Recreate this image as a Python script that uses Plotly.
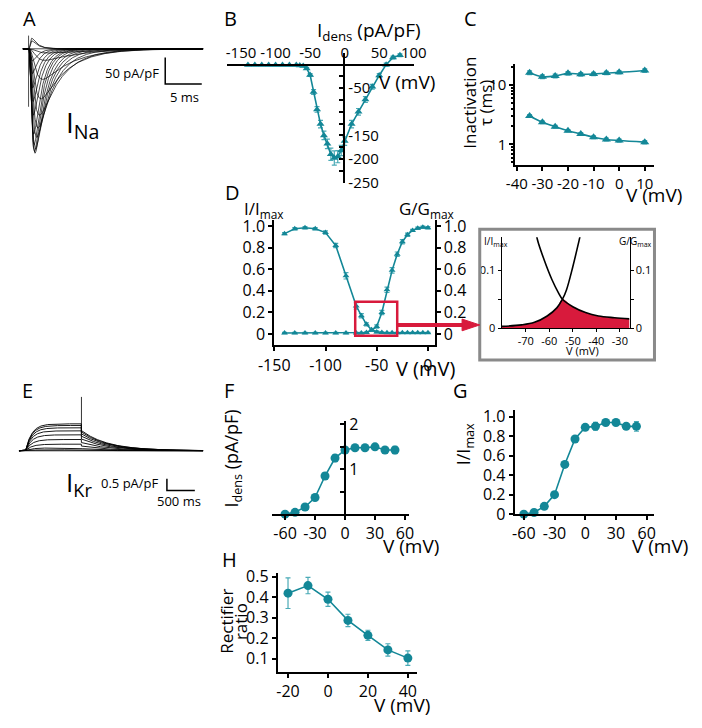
import numpy as np
import plotly.graph_objects as go

W, H = 702, 728
FONT = "Open Sans"
TEAL = "#138797"
TEAL_ERR = "#4aaab6"
RED = "#d81a3c"

# ---------------- data ----------------
# B: Na current density vs voltage
b_v = [-140, -130, -120, -110, -100, -90, -80, -70, -65, -60, -55, -50, -45, -40, -35,
       -30, -25, -20, -15, -10, -5, 0, 10, 20, 30, 40, 50, 60, 70, 80]
b_i = [-1, -1, -1, -1, -1, -1, -1, -1, -2, -3, -8, -22, -58, -95, -126,
       -150, -168, -190, -198, -195, -182, -162, -126, -100, -74, -47, -23, 0, 15, 20]
b_err = [1, 1, 1, 1, 1, 1, 1, 1, 1, 1, 2, 3, 5, 6, 8,
         9, 10, 13, 15, 13, 11, 9, 8, 7, 6, 5, 4, 3, 3, 3]

# C: inactivation time constants
c_v = [-35, -30, -25, -20, -15, -10, -5, 0, 10]
c_slow = [16.0, 13.7, 14.1, 15.6, 15.0, 15.2, 15.8, 16.2, 17.4]
c_slow_err = [1.2, 1.0, 1.0, 1.0, 1.0, 1.0, 1.0, 1.0, 1.2]
c_fast = [3.0, 2.35, 1.98, 1.70, 1.50, 1.32, 1.21, 1.16, 1.09]
c_fast_err = [0.15, 0.12, 0.1, 0.08, 0.08, 0.07, 0.07, 0.07, 0.07]

# D: steady-state inactivation (I/Imax) and activation (G/Gmax)
d_v = [-140, -130, -120, -110, -100, -90, -80, -70, -65, -60, -55,
       -50, -45, -40, -35, -30, -25, -20, -15, -10, -5, 0]
d_inact = [0.93, 0.975, 0.985, 0.975, 0.94, 0.82, 0.54, 0.26, 0.17, 0.09, 0.04,
           0.02, 0.015, 0.012, 0.012, 0.012, 0.012, 0.012, 0.012, 0.012, 0.012, 0.012]
d_inact_err = [0.01, 0.01, 0.01, 0.01, 0.015, 0.02, 0.03, 0.03, 0.02, 0.015, 0.01,
               0.01, 0.005, 0.005, 0.005, 0.005, 0.005, 0.005, 0.005, 0.005, 0.005, 0.005]
d_act = [0.01, 0.01, 0.01, 0.01, 0.01, 0.01, 0.01, 0.01, 0.01, 0.015, 0.035,
         0.07, 0.2, 0.41, 0.59, 0.74, 0.855, 0.92, 0.96, 0.98, 0.99, 0.985]
d_act_err = [0.005, 0.005, 0.005, 0.005, 0.005, 0.005, 0.005, 0.005, 0.005, 0.005, 0.01,
             0.015, 0.02, 0.025, 0.025, 0.02, 0.02, 0.015, 0.01, 0.01, 0.01, 0.01]

# D inset: window current (curves)
in_act_v = [-80.3, -71.8, -66.3, -60.9, -56.8, -54.4, -52.7, -50.0, -47.3, -46.0]
in_act = [0.003, 0.0056, 0.010, 0.021, 0.035, 0.05, 0.066, 0.106, 0.152, 0.175]
in_inact_v = [-66.0, -65.0, -62.2, -58.9, -56.1, -54.4, -50.0, -44.6, -39.1, -32.3, -25.9]
in_inact = [0.175, 0.152, 0.118, 0.084, 0.061, 0.05, 0.037, 0.027, 0.021, 0.018, 0.016]

# F: I_Kr density vs voltage
f_v = [-60, -50, -40, -30, -20, -10, 0, 10, 20, 30, 40, 50]
f_i = [0.0, 0.04, 0.16, 0.37, 0.85, 1.25, 1.43, 1.48, 1.48, 1.50, 1.43, 1.43]
f_err = [0.02, 0.02, 0.03, 0.04, 0.07, 0.08, 0.06, 0.04, 0.04, 0.05, 0.05, 0.08]

# G: normalised I_Kr
g_v = [-60, -50, -40, -30, -20, -10, 0, 10, 20, 30, 40, 50]
g_r = [0.0, 0.017, 0.08, 0.2, 0.51, 0.77, 0.89, 0.9, 0.94, 0.94, 0.9, 0.9]
g_err = [0.01, 0.01, 0.015, 0.02, 0.03, 0.025, 0.02, 0.04, 0.02, 0.02, 0.03, 0.05]

# H: rectifier ratio
h_v = [-20, -10, 0, 10, 20, 30, 40]
h_r = [0.42, 0.457, 0.39, 0.287, 0.214, 0.143, 0.103]
h_err = [0.075, 0.04, 0.035, 0.03, 0.025, 0.03, 0.035]

# A: raw I_Na traces, kinetics per step voltage (amplitudes from panel B)
a_t = np.linspace(0, 24.7, 800)
a_t0 = 0.85
a_tm_v = [-55, -40, -20, 0, 40, 80]
a_tm = [0.8, 0.55, 0.32, 0.24, 0.17, 0.14]
a_th_v = [-55, -45] + c_v + [40, 80]
a_th = [5.5, 4.0] + c_fast + [0.9, 0.8]
a_artifact = [25, -110]

# E: raw I_Kr traces
e_t = np.linspace(0, 3300, 1200)
e_on, e_off = 120, 1120
e_step = [0.0, 0.04, 0.12, 0.28, 0.48, 0.68, 0.85, 0.98, 1.08, 1.15]
e_tail = [0.0, 0.03, 0.09, 0.2, 0.35, 0.5, 0.62, 0.72, 0.8, 0.86]
e_spike = [0.9, 2.3]


def hx(a, b):
    return [a / W, b / W]


def vy(top, bottom):
    return [1 - bottom / H, 1 - top / H]


def na_trace(v, amp):
    tm = np.interp(v, a_tm_v, a_tm)
    th = np.interp(v, a_th_v, a_th)
    s = np.clip(a_t - a_t0, 0, None)
    g = (1 - np.exp(-s / tm)) ** 3 * np.exp(-s / th)
    return amp * g / g.max()


def kr_trace(step, tail):
    y = np.zeros_like(e_t)
    on = (e_t >= e_on) & (e_t < e_off)
    y[on] = step * (1 - np.exp(-(e_t[on] - e_on) / 110))
    off = e_t >= e_off
    y[off] = tail * np.exp(-(e_t[off] - e_off) / 480)
    return y


fig = go.Figure()


def line(x, y, ax, color="black", width=0.7, shape="linear"):
    fig.add_trace(go.Scatter(x=x, y=y, mode="lines", line=dict(color=color, width=width, shape=shape),
                             xaxis=ax[0], yaxis=ax[1], hoverinfo="skip"))


def data(x, y, err, ax, symbol, size, shape="linear"):
    fig.add_trace(go.Scatter(
        x=x, y=y, mode="lines+markers", xaxis=ax[0], yaxis=ax[1],
        line=dict(color=TEAL, width=1.6, shape=shape),
        marker=dict(symbol=symbol, size=size, color=TEAL),
        error_y=dict(type="data", array=err, color=TEAL_ERR, thickness=1.2, width=2.5),
        cliponaxis=False, hoverinfo="skip"))


# A traces
for v, amp in zip(b_v, b_i):
    if v >= -55:
        line(a_t, na_trace(v, amp), ("x", "y"))
line([a_t0 - 0.05] * 2, a_artifact, ("x", "y"))
line([19.5, 19.5, 24.5], [-16.7, -66.7, -66.7], ("x", "y"), width=1.5)

# B
data(b_v, b_i, b_err, ("x2", "y2"), "triangle-up", 7)

# C
data(c_v, c_slow, c_slow_err, ("x3", "y3"), "triangle-up", 8, "spline")
data(c_v, c_fast, c_fast_err, ("x3", "y3"), "triangle-up", 8, "spline")

# D (inactivation on left axis, activation on right axis)
data(d_v, d_inact, d_inact_err, ("x4", "y4"), "triangle-up", 6)
data(d_v, d_act, d_act_err, ("x4", "y5"), "triangle-up", 6)

# inset: red window area = lower envelope of the two curves
k_a = in_act_v.index(-54.4)
k_i = in_inact_v.index(-54.4)
fig.add_trace(go.Scatter(x=in_act_v[:k_a + 1] + in_inact_v[k_i + 1:],
                         y=in_act[:k_a + 1] + in_inact[k_i + 1:],
                         mode="lines", fill="tozeroy", fillcolor=RED,
                         line=dict(width=0, shape="spline", color=RED),
                         xaxis="x6", yaxis="y6", hoverinfo="skip"))
line(in_act_v, in_act, ("x6", "y7"), width=1.6, shape="spline")
line(in_inact_v, in_inact, ("x6", "y6"), width=1.6, shape="spline")

# E traces
for s, tl in zip(e_step, e_tail):
    line(e_t, kr_trace(s, tl), ("x8", "y8"), width=0.9)
line([e_off, e_off], e_spike, ("x8", "y8"), width=0.8)
line([2650, 2650, 3150], [-1.2, -1.7, -1.7], ("x8", "y8"), width=1.5)

# F, G, H
data(f_v, f_i, f_err, ("x9", "y9"), "circle", 9)
data(g_v, g_r, g_err, ("x10", "y10"), "circle", 9)
data(h_v, h_r, h_err, ("x11", "y11"), "circle", 9)

# ---------------- axes ----------------
tf = dict(family=FONT, size=16, color="black")
base = dict(showline=True, linecolor="black", linewidth=2, showgrid=False, zeroline=False,
            ticks="outside", ticklen=4, tickwidth=1.5, tickcolor="black", tickfont=tf,
            tickangle=0, fixedrange=True)
small = dict(linewidth=1, ticklen=3, tickwidth=1, tickfont=dict(tf, size=11))
hidden = dict(visible=False, fixedrange=True)


def neg(vals):
    return [("-" + str(abs(v))) if v < 0 else str(v) for v in vals]


frac = ["0", "0.2", "0.4", "0.6", "0.8", "1.0"]
fvals = [0, 0.2, 0.4, 0.6, 0.8, 1.0]

lay = dict(
    xaxis=dict(hidden, domain=hx(7, 195), range=[0, 24.7]),
    yaxis=dict(hidden, domain=vy(25, 165), range=[-226, 33]),
    xaxis2=dict(base, domain=hx(220, 415), range=[-170, 101], anchor="free",
                position=1 - 59 / H, side="top", ticks="", tickfont=dict(tf, size=15),
                tickvals=[-150, -100, -50, 0, 50, 100], ticktext=neg([-150, -100, -50, 0, 50, 100])),
    yaxis2=dict(base, domain=vy(47, 180), range=[-250, 25], anchor="free",
                position=342 / W, side="right", ticks="inside", tickfont=dict(tf, size=15),
                tickvals=[-50, -150, -200, -250], ticktext=neg([-50, -150, -200, -250]),
                minor=dict(tickvals=[-25, -75, -100, -125, -175, -225], ticks="inside",
                           ticklen=4, tickcolor="black")),
    xaxis3=dict(base, domain=hx(520, 665), range=[-40.6, 13.8], anchor="y3",
                tickfont=dict(tf, size=15),
                tickvals=[-40, -30, -20, -10, 0, 10], ticktext=neg([-40, -30, -20, -10, 0, 10])),
    yaxis3=dict(base, domain=vy(58, 162), type="log", range=[-0.346, 1.357], anchor="x3",
                tickfont=dict(tf, size=15),
                tickvals=[1, 10], ticktext=["1", "10"],
                minor=dict(tickvals=[0.5, 0.6, 0.7, 0.8, 0.9, 2, 3, 4, 5, 6, 7, 8, 9, 20],
                           ticks="outside", ticklen=2, tickcolor="black")),
    xaxis4=dict(base, domain=hx(269, 436), range=[-150, 6.5], anchor="y4",
                tickvals=[-150, -100, -50, 0], ticktext=neg([-150, -100, -50, 0])),
    yaxis4=dict(base, domain=vy(218, 347), range=[-0.105, 1.06], anchor="x4",
                tickvals=fvals, ticktext=frac),
    yaxis5=dict(base, domain=vy(218, 347), range=[-0.105, 1.06], anchor="x4",
                overlaying="y4", side="right", tickvals=fvals, ticktext=frac),
    xaxis6=dict(base, **small, domain=hx(505.7, 639), range=[-80.3, -25.9], anchor="y6",
                tickvals=[-70, -60, -50, -40, -30], ticktext=neg([-70, -60, -50, -40, -30])),
    yaxis6=dict(base, **small, domain=vy(236, 329.3), range=[0, 0.157], anchor="x6",
                tickvals=[0, 0.1], ticktext=["0", "0.1"],
                minor=dict(tickvals=[0.05], ticks="outside", ticklen=3, tickcolor="black")),
    yaxis7=dict(base, **small, domain=vy(236, 329.3), range=[0, 0.157], anchor="x6",
                overlaying="y6", side="right",
                tickvals=[0, 0.1], ticktext=["0", "0.1"],
                minor=dict(tickvals=[0.05], ticks="outside", ticklen=3, tickcolor="black")),
    xaxis8=dict(hidden, domain=hx(3, 195), range=[0, 3300]),
    yaxis8=dict(hidden, domain=vy(395, 515), range=[-2.5, 2.5]),
    xaxis9=dict(base, domain=hx(266.7, 409.3), range=[-73, 64], anchor="y9",
                tickvals=[-60, -30, 0, 30, 60], ticktext=neg([-60, -30, 0, 30, 60])),
    yaxis9=dict(base, domain=vy(424, 520), range=[0, 2.087], anchor="free",
                position=342.7 / W, side="right", ticks="inside",
                tickvals=[1, 2], ticktext=["1", "2"],
                minor=dict(tickvals=[0.5, 1.5], ticks="inside", ticklen=4, tickcolor="black")),
    xaxis10=dict(base, domain=hx(519.3, 665), range=[-69, 67.6], anchor="y10",
                 tickvals=[-60, -30, 0, 30, 60], ticktext=neg([-60, -30, 0, 30, 60])),
    yaxis10=dict(base, domain=vy(413, 520), range=[0, 1.07], anchor="x10",
                 tickvals=fvals, ticktext=frac),
    xaxis11=dict(base, domain=hx(272.7, 417.3), range=[-25.1, 44.4], anchor="y11",
                 tickvals=[-20, 0, 20, 40], ticktext=neg([-20, 0, 20, 40])),
    yaxis11=dict(base, domain=vy(580, 681.7), range=[0.036, 0.52], anchor="x11",
                 tickvals=[0.1, 0.2, 0.3, 0.4, 0.5],
                 ticktext=["0.1", "0.2", "0.3", "0.4", "0.5"]),
)

anns = []


def ann(text, x, y, size=18, xanchor="center", angle=0):
    anns.append(dict(text=text, x=x / W, y=1 - y / H, xref="paper", yref="paper",
                     showarrow=False, xanchor=xanchor, yanchor="middle", textangle=angle,
                     font=dict(family=FONT, size=size, color="black")))


for letter, x, y in [("A", 14, 12), ("B", 223, 12), ("C", 473, 12), ("D", 225, 190),
                     ("E", 12, 393), ("F", 222, 393), ("G", 463, 393), ("H", 222, 567)]:
    ann(letter, x, y, size=20)

ann("I<sub>Na</sub>", 50, 120, size=28, xanchor="left")
ann("50 pA/pF", 151, 68, size=13, xanchor="right")
ann("5 ms", 176, 92, size=13)
ann("I<sub>Kr</sub>", 50, 488, size=26, xanchor="left")
ann("0.5 pA/pF", 151, 488, size=13, xanchor="right")
ann("500 ms", 170, 507, size=13)

ann("I<sub>dens</sub> (pA/pF)", 368, 25, size=19)
ann("V (mV)", 407, 77, size=19)
ann("Inactivation", 472, 98, size=17, angle=-90)
ann("\u03c4 (ms)", 489, 98, size=17, angle=-90)
ann("V (mV)", 665, 193, size=19)
ann("I/I<sub>max</sub>", 258, 208, size=17)
ann("G/G<sub>max</sub>", 428, 208, size=17)
ann("V (mV)", 426, 371, size=20)
ann("I/I<sub>max</sub>", 500, 240, size=10)
ann("G/G<sub>max</sub>", 645, 240, size=10)
ann("V (mV)", 590, 352, size=11)
ann("I<sub>dens</sub> (pA/pF)", 226, 463, size=18, angle=-90)
ann("V (mV)", 411, 553, size=19)
ann("I/I<sub>max</sub>", 468, 448, size=18, angle=-90)
ann("V (mV)", 671, 553, size=19)
ann("Rectifier", 219, 630, size=17, angle=-90)
ann("ratio", 234, 630, size=17, angle=-90)
ann("V (mV)", 402, 716, size=19)

# arrow from the red box to the inset
ax0, ax1, ay = 397 / W, 466 / W, 1 - 326 / H
tip = 483 / W
hh = 6 / H
shapes = [
    dict(type="rect", xref="x4", yref="y4", x0=-71, x1=-30, y0=-0.015, y1=0.30,
         line=dict(color=RED, width=2.5)),
    dict(type="rect", xref="paper", yref="paper", x0=483 / W, x1=665 / W,
         y0=1 - 362 / H, y1=1 - 228 / H, line=dict(color="#8a8a8a", width=3)),
    dict(type="line", xref="paper", yref="paper", x0=ax0, x1=ax1, y0=ay, y1=ay,
         line=dict(color=RED, width=4)),
    dict(type="path", xref="paper", yref="paper", fillcolor=RED, line=dict(color=RED, width=1),
         path=f"M {ax1 - 0.002} {ay - hh} L {tip} {ay} L {ax1 - 0.002} {ay + hh} Z"),
]

fig.update_layout(width=W, height=H, margin=dict(l=0, r=0, t=0, b=0),
                  paper_bgcolor="white", plot_bgcolor="rgba(0,0,0,0)",
                  showlegend=False, font=dict(family=FONT, color="black"),
                  annotations=anns, shapes=shapes, **lay)

fig.write_html("out.html", config={"displayModeBar": False},
               post_script="document.body.style.margin='0px';")
